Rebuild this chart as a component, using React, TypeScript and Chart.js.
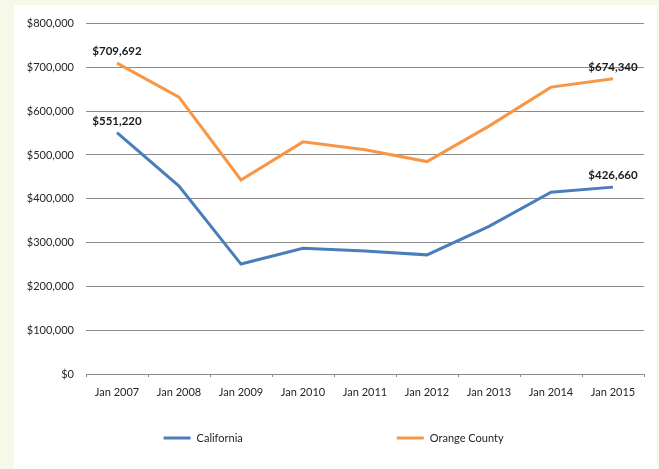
import React, { useEffect, useRef } from "react";
import { Chart, registerables } from "chart.js";

Chart.register(...registerables);

const categories = ["Jan 2007", "Jan 2008", "Jan 2009", "Jan 2010", "Jan 2011", "Jan 2012", "Jan 2013", "Jan 2014", "Jan 2015"];
const californiaValues = [551220, 429000, 251000, 287000, 281000, 272000, 337000, 415000, 426660];
const orangeCountyValues = [709692, 632000, 443000, 530000, 512000, 485000, 566000, 655000, 674340];
const seriesNames = ["California", "Orange County"];
const seriesColors = ["#4A7EBB", "#F79646"];

const FONT = "Lato, 'Open Sans', sans-serif";

const fmt = (v: number) => "$" + Math.round(v).toLocaleString("en-US");

const endLabelsPlugin = {
  id: "endLabels",
  afterDatasetsDraw(chart: any) {
    const ctx = chart.ctx;
    ctx.save();
    ctx.font = `bold 11.5px ${FONT}`;
    ctx.fillStyle = "#1a1a1a";
    ctx.textAlign = "center";
    ctx.textBaseline = "bottom";
    chart.data.datasets.forEach((ds: any, di: number) => {
      const meta = chart.getDatasetMeta(di);
      const n = ds.data.length;
      [0, n - 1].forEach((i) => {
        const pt = meta.data[i];
        ctx.fillText(fmt(ds.data[i]), pt.x, pt.y - 6);
      });
    });
    ctx.restore();
  },
};

const bottomLegendPlugin = {
  id: "bottomLegend",
  afterDraw(chart: any) {
    const ctx = chart.ctx;
    const area = chart.chartArea;
    const w = area.right - area.left;
    const y = chart.height - 31;
    const starts = [area.left + w * 0.139, area.left + w * 0.557];
    ctx.save();
    ctx.font = `11px ${FONT}`;
    ctx.textBaseline = "middle";
    ctx.textAlign = "left";
    chart.data.datasets.forEach((ds: any, di: number) => {
      const x = starts[di];
      ctx.strokeStyle = ds.borderColor;
      ctx.lineWidth = 3;
      ctx.beginPath();
      ctx.moveTo(x, y);
      ctx.lineTo(x + 27, y);
      ctx.stroke();
      ctx.fillStyle = "#262626";
      ctx.fillText(ds.label, x + 33, y);
    });
    ctx.restore();
  },
};

export default function App() {
  const ref = useRef<HTMLCanvasElement>(null);

  useEffect(() => {
    document.body.style.margin = "0";
    const canvas = ref.current;
    if (!canvas) return;
    const chart = new Chart(canvas, {
      type: "line",
      data: {
        labels: categories,
        datasets: [
          {
            label: seriesNames[0],
            data: californiaValues,
            borderColor: seriesColors[0],
            backgroundColor: seriesColors[0],
            borderWidth: 3,
            pointRadius: 0,
            tension: 0,
          },
          {
            label: seriesNames[1],
            data: orangeCountyValues,
            borderColor: seriesColors[1],
            backgroundColor: seriesColors[1],
            borderWidth: 3,
            pointRadius: 0,
            tension: 0,
          },
        ],
      },
      options: {
        responsive: false,
        animation: false,
        maintainAspectRatio: false,
        layout: { padding: { left: 0, right: 13, top: 15, bottom: 55 } },
        plugins: {
          legend: { display: false },
          tooltip: { enabled: false },
        },
        scales: {
          x: {
            type: "category",
            offset: true,
            grid: {
              offset: true,
              drawOnChartArea: false,
              drawTicks: true,
              tickLength: 3,
              color: "#8c8c8c",
            },
            border: { display: true, color: "#8c8c8c", width: 1 },
            ticks: {
              font: { family: FONT, size: 11 },
              color: "#262626",
              padding: 9,
              maxRotation: 0,
              autoSkip: false,
            },
            afterFit: (scale: any) => {
              scale.height = 40;
            },
          },
          y: {
            min: 0,
            max: 800000,
            grid: {
              drawTicks: false,
              color: "#8c8c8c",
              lineWidth: 1,
            },
            border: { display: false },
            ticks: {
              stepSize: 100000,
              font: { family: FONT, size: 11 },
              color: "#262626",
              padding: 12,
              callback: (v: any) => fmt(Number(v)),
            },
            afterFit: (scale: any) => {
              scale.width = 72;
            },
          },
        },
      },
      plugins: [endLabelsPlugin, bottomLegendPlugin],
    });
    return () => chart.destroy();
  }, []);

  return (
    <div style={{ position: "relative", width: 659, height: 469, background: "#F6F8EA", overflow: "hidden" }}>
      <div style={{ position: "absolute", left: 14, top: 5, width: 643, height: 464, background: "#FFFFFF" }}>
        <canvas ref={ref} width={643} height={464} style={{ display: "block", width: 643, height: 464 }} />
      </div>
    </div>
  );
}
